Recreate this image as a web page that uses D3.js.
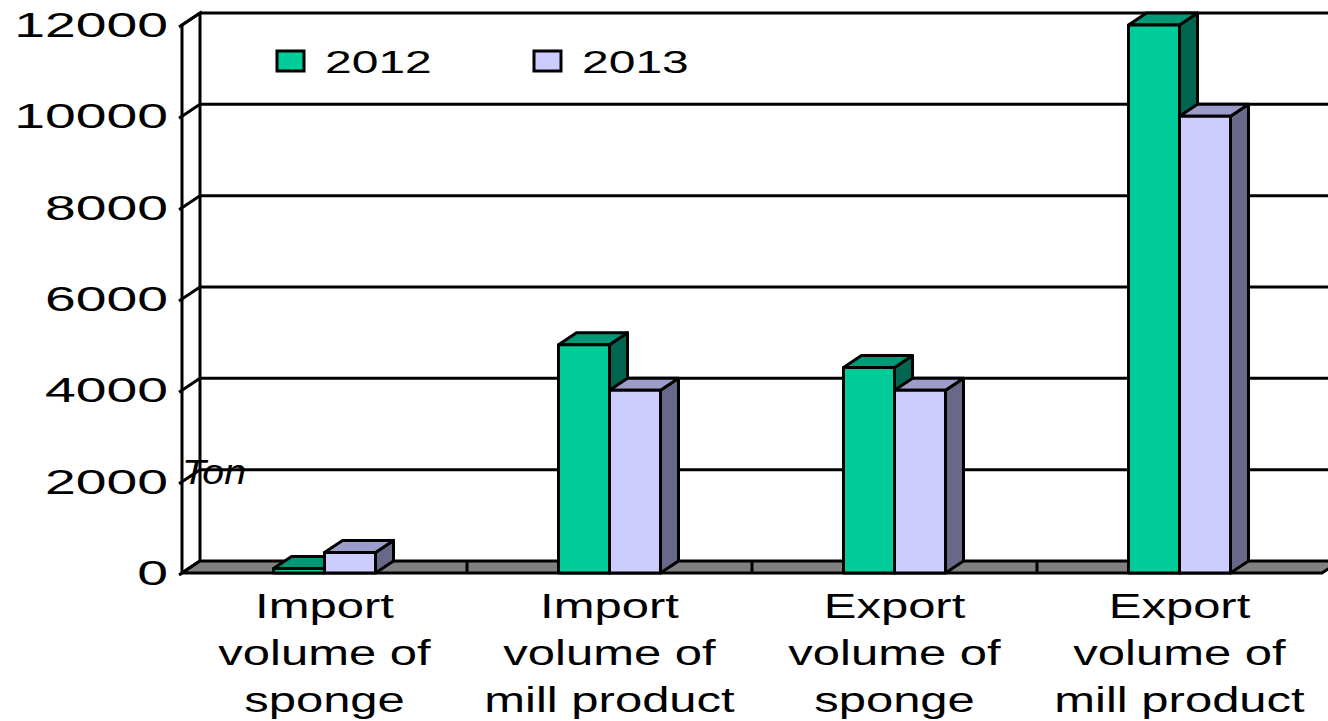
<!DOCTYPE html>
<html>
<head>
<meta charset="utf-8">
<script src="https://cdn.jsdelivr.net/npm/d3@7"></script>
<style>
  body { margin: 0; background: #fff; }
  text { font-family: "Liberation Sans", Arial, sans-serif; fill: #000; }
</style>
</head>
<body>
<div id="chart"></div>
<script>
// data
const categories = [
  ["Import", "volume of", "sponge"],
  ["Import", "volume of", "mill product"],
  ["Export", "volume of", "sponge"],
  ["Export", "volume of", "mill product"]
];
const seriesNames = ["2012", "2013"];
const values2012 = [100, 5000, 4500, 12000];
const values2013 = [450, 4000, 4000, 10000];
const yTicks = [0, 2000, 4000, 6000, 8000, 10000, 12000];

const width = 1328, height = 721;
const dx = 18, dy = -12; // depth offset
const stretch = 1.5;     // horizontally stretched text

const colors = {
  "2012": { front: "#00CC99", top: "#009977", side: "#006650" },
  "2013": { front: "#CCCCFF", top: "#9C9CCB", side: "#686888" }
};

const svg = d3.select("#chart").append("svg")
  .attr("width", width)
  .attr("height", height);

// scales (front plane)
const y = d3.scaleLinear().domain([0, 12000]).range([573, 25]);
const x = d3.scaleBand().domain(d3.range(categories.length)).range([182, 1322]).padding(0);
const xs = d3.scaleBand().domain(seriesNames).range([-51, 51]).padding(0);

const x0 = x.range()[0], x1 = x.range()[1];

function stretchedText(g, tx, ty, str, size, anchor, sx) {
  return g.append("text")
    .attr("transform", `translate(${tx},${ty}) scale(${sx || stretch},1)`)
    .attr("text-anchor", anchor || "start")
    .style("font-size", size + "px")
    .text(str);
}

const line = d3.line();

// walls
const walls = svg.append("g")
  .attr("fill", "none")
  .attr("stroke", "#000")
  .attr("stroke-width", 3);

// left wall
walls.append("path")
  .attr("fill", "#fff")
  .attr("d", line([[x0, y(0)], [x0, y(12000)], [x0 + dx, y(12000) + dy], [x0 + dx, y(0) + dy]]) + "Z");

// gridlines on back wall + left wall diagonals
yTicks.forEach(t => {
  if (t > 0) {
    walls.append("line")
      .attr("x1", x0 + dx).attr("x2", x1 + dx + 20)
      .attr("y1", y(t) + dy).attr("y2", y(t) + dy);
  }
  walls.append("line")
    .attr("x1", x0 - 3).attr("y1", y(t) + 2)
    .attr("x2", x0 + dx).attr("y2", y(t) + dy);
});

// floor
const floor = svg.append("g");
floor.append("path")
  .attr("fill", "#808080")
  .attr("stroke", "#000")
  .attr("stroke-width", 3)
  .attr("stroke-linejoin", "round")
  .attr("d", line([[x0, y(0)], [x1, y(0)], [x1 + dx, y(0) + dy], [x0 + dx, y(0) + dy]]) + "Z");

d3.range(1, categories.length).forEach(i => {
  floor.append("line")
    .attr("x1", x(i)).attr("x2", x(i))
    .attr("y1", y(0) + dy).attr("y2", y(0))
    .attr("stroke", "#000")
    .attr("stroke-width", 3);
});

// bars
const bars = svg.append("g")
  .attr("stroke", "#000")
  .attr("stroke-width", 3)
  .attr("stroke-linejoin", "round");

categories.forEach((c, i) => {
  const cx = x(i) + x.bandwidth() / 2;
  [values2012[i], values2013[i]].forEach((v, j) => {
    const s = seriesNames[j];
    const bx = cx + xs(s), bw = xs.bandwidth();
    const yt = y(v), yb = y(0);
    const g = bars.append("g");
    // side
    g.append("path")
      .attr("fill", colors[s].side)
      .attr("d", line([[bx + bw, yb], [bx + bw, yt], [bx + bw + dx, yt + dy], [bx + bw + dx, yb + dy]]) + "Z");
    // top
    g.append("path")
      .attr("fill", colors[s].top)
      .attr("d", line([[bx, yt], [bx + bw, yt], [bx + bw + dx, yt + dy], [bx + dx, yt + dy]]) + "Z");
    // front
    g.append("rect")
      .attr("fill", colors[s].front)
      .attr("x", bx).attr("y", yt)
      .attr("width", bw).attr("height", yb - yt);
  });
});

// y axis labels
const yLabels = svg.append("g");
yTicks.forEach(t => {
  stretchedText(yLabels, 168, y(t) + 12, String(t), 35, "end", 1.58);
});

// axis title
stretchedText(svg, 182, 484, "Ton", 35, "start", 1.12)
  .style("font-style", "italic");

// category labels
const catLabels = svg.append("g");
categories.forEach((c, i) => {
  const cx = x(i) + x.bandwidth() / 2;
  c.forEach((ln, k) => {
    stretchedText(catLabels, cx, 618 + k * 47, ln, 35, "middle", 1.4);
  });
});

// legend
const legend = svg.append("g");
const legendX = [277, 534];
seriesNames.forEach((s, i) => {
  legend.append("rect")
    .attr("x", legendX[i]).attr("y", 51)
    .attr("width", 27).attr("height", 20)
    .attr("fill", colors[s].front)
    .attr("stroke", "#000")
    .attr("stroke-width", 3);
  stretchedText(legend, legendX[i] + 48, 73, s, 32, "start");
});
</script>
</body>
</html>
